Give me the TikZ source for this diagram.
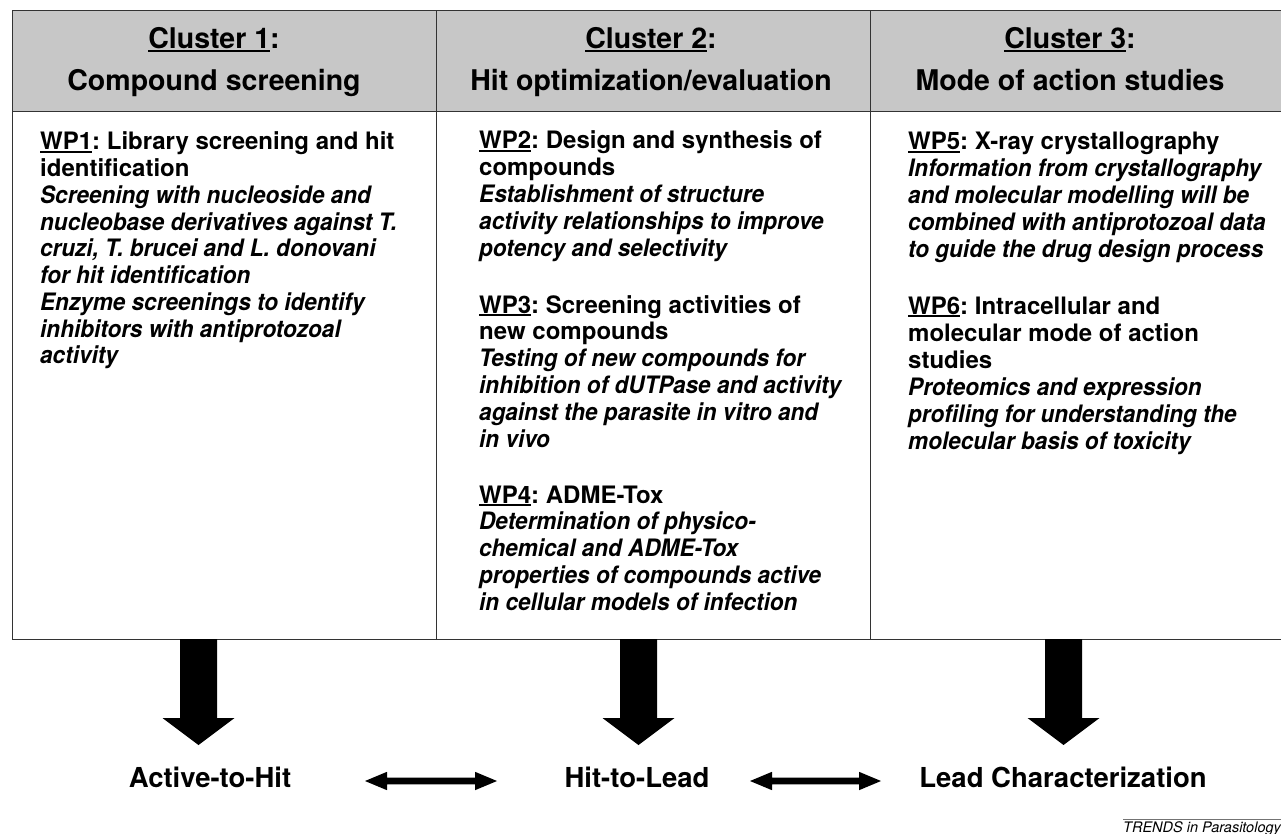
\documentclass[tikz,border=0pt]{standalone}
\usepackage{fontspec}
\setmainfont{TeX Gyre Heros}[BoldItalicFeatures={FakeStretch=0.94}]
\usetikzlibrary{calc}
\frenchspacing
\newcommand{\ulh}[1]{\leavevmode\setbox0\hbox{#1}\rlap{\rule[-3.2pt]{\wd0}{2pt}}\box0}
\newcommand{\ulb}[1]{\leavevmode\setbox0\hbox{#1}\rlap{\rule[-3pt]{\wd0}{1.6pt}}\box0}
\newcommand{\DownArr}[2]{%
  \fill[bigarrow] ($(#1)+(-18.5,0)$) -- ($(#2)+(-18.5,-27)$) -- ($(#2)+(-36,-27)$) -- (#2)
    -- ($(#2)+(36,-27)$) -- ($(#2)+(18.5,-27)$) -- ($(#1)+(18.5,0)$) -- cycle;}
\newcommand{\BothArr}[2]{%
  \fill[bigarrow] (#1) -- ($(#1)+(22,-9.2)$) -- ($(#1)+(22,-3.4)$) -- ($(#2)+(-22,-3.4)$)
    -- ($(#2)+(-22,-9.2)$) -- (#2) -- ($(#2)+(-22,9.2)$) -- ($(#2)+(-22,3.4)$)
    -- ($(#1)+(22,3.4)$) -- ($(#1)+(22,9.2)$) -- cycle;}
\begin{document}
\frenchspacing
\begin{tikzpicture}[x=1pt,y=-1pt,
  cell/.style={draw=black!80,line width=1.4pt,rectangle,inner sep=0pt,anchor=north west},
  headcell/.style={cell,fill=black!22,minimum height=101pt},
  bodycell/.style={cell,fill=white,minimum height=528pt},
  htxt/.style={anchor=base,inner sep=0pt},
  wptxt/.style={anchor=base west,inner sep=0pt},
  lab/.style={anchor=base,inner sep=0pt,font=\fontsize{27.5}{30}\selectfont\bfseries},
  bigarrow/.style={fill=black}]
\useasboundingbox (0,0) rectangle (1281,834);

% table cells
\node[headcell,minimum width=424pt] (h1) at (12,10) {};
\node[headcell,minimum width=434pt] (h2) at (436,10) {};
\node[headcell,minimum width=430pt] (h3) at (870,10) {};
\node[bodycell,minimum width=424pt] (b1) at (12,111) {};
\node[bodycell,minimum width=434pt] (b2) at (436,111) {};
\node[bodycell,minimum width=430pt] (b3) at (870,111) {};

% headers
\node[htxt] (t1) at (214,49) {\parbox[t]{420pt}{\centering\fontsize{28.5}{42}\selectfont\bfseries
  \ulh{Cluster 1}:\\ Compound screening}};
\node[htxt] (t2) at (651,49) {\parbox[t]{420pt}{\centering\fontsize{28.5}{42}\selectfont\bfseries
  \ulh{Cluster 2}:\\ Hit optimization/evaluation}};
\node[htxt] (t3) at (1070,49) {\parbox[t]{420pt}{\centering\fontsize{28.5}{42}\selectfont\bfseries
  \ulh{Cluster 3}:\\ Mode of action studies}};

% column 1
\node[wptxt] (wp1) at (40,150) {\parbox[t]{430pt}{\raggedright\frenchspacing\fontsize{24}{26.75}\selectfont\bfseries
  \ulb{WP1}: Library screening and hit\\
  identification\\
  \itshape Screening with nucleoside and\\
  nucleobase derivatives against T.\\
  cruzi, T. brucei and L. donovani\\
  for hit identification\\
  Enzyme screenings to identify\\
  inhibitors with antiprotozoal\\
  activity}};

% column 2
\node[wptxt] (wp2) at (479,149) {\parbox[t]{430pt}{\raggedright\frenchspacing\fontsize{24}{26.8}\selectfont\bfseries
  \ulb{WP2}: Design and synthesis of\\
  compounds\\
  \itshape Establishment of structure\\
  activity relationships to improve\\
  potency and selectivity}};
\node[wptxt] (wp3) at (479,313) {\parbox[t]{430pt}{\raggedright\frenchspacing\fontsize{24}{26.8}\selectfont\bfseries
  \ulb{WP3}: Screening activities of\\
  new compounds\\
  \itshape Testing of new compounds for\\
  inhibition of dUTPase and activity\\
  against the parasite in vitro and\\
  in vivo}};
\node[wptxt] (wp4) at (479,503) {\parbox[t]{430pt}{\raggedright\frenchspacing\fontsize{24}{26.8}\selectfont\bfseries
  \ulb{WP4}: ADME-Tox\\
  \itshape Determination of physico-\\
  chemical and ADME-Tox\\
  properties of compounds active\\
  in cellular models of infection}};

% column 3
\node[wptxt] (wp5) at (908,150) {\parbox[t]{430pt}{\raggedright\frenchspacing\fontsize{24}{26.8}\selectfont\bfseries
  \ulb{WP5}: X-ray crystallography\\
  \itshape Information from crystallography\\
  and molecular modelling will be\\
  combined with antiprotozoal data\\
  to guide the drug design process}};
\node[wptxt] (wp6) at (908,314) {\parbox[t]{430pt}{\raggedright\frenchspacing\fontsize{24}{27}\selectfont\bfseries
  \ulb{WP6}: Intracellular and\\
  molecular mode of action\\
  studies\\
  \itshape Proteomics and expression\\
  profiling for understanding the\\
  molecular basis of toxicity}};

% bottom labels
\node[lab] (l1) at (210,787) {Active-to-Hit};
\node[lab] (l2) at (637,787) {Hit-to-Lead};
\node[lab] (l3) at (1063,787) {Lead Characterization};

% big down arrows
\coordinate (a1s) at (198.5,639); \coordinate (a1e) at (198.5,745);
\coordinate (a2s) at (638.5,639); \coordinate (a2e) at (638.5,745);
\coordinate (a3s) at (1063.5,639); \coordinate (a3e) at (1063.5,745);
\DownArr{a1s}{a1e}
\DownArr{a2s}{a2e}
\DownArr{a3s}{a3e}

% double arrows
\coordinate (d1l) at (365,781); \coordinate (d1r) at (497,781);
\coordinate (d2l) at (750,781); \coordinate (d2r) at (881,781);
\BothArr{d1l}{d1r}
\BothArr{d2l}{d2r}

% footer
\node[anchor=base west,inner sep=0pt,font=\fontsize{14.5}{16}\selectfont\itshape] (foot) at (1123,832) {TRENDS in Parasitology};
\coordinate (fl) at (1123,819); \coordinate (fr) at (1290,819);
\draw[black!55,line width=0.7pt] (fl) -- (fr);
\end{tikzpicture}
\end{document}
